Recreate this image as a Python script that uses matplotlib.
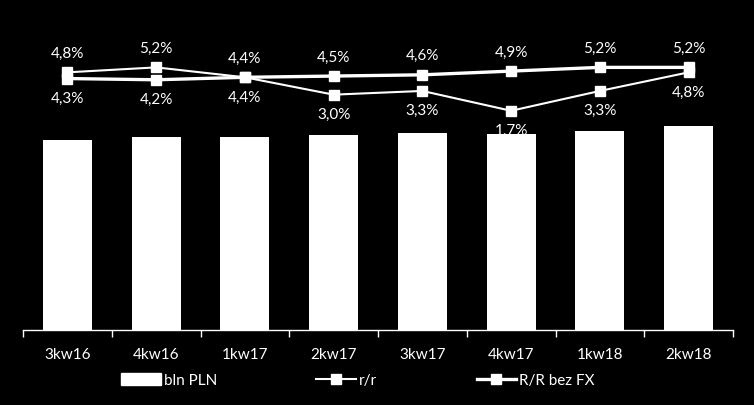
import numpy as np
import matplotlib.pyplot as plt
from matplotlib.lines import Line2D
from matplotlib.patches import Patch

plt.rcParams['font.family'] = ['Lato', 'DejaVu Sans']

# Dane
kwartaly = ['3kw16', '4kw16', '1kw17', '2kw17', '3kw17', '4kw17', '1kw18', '2kw18']
bln_pln = [19.0, 19.3, 19.3, 19.5, 19.7, 19.6, 19.9, 20.4]
rr = [4.8, 5.2, 4.4, 3.0, 3.3, 1.7, 3.3, 4.8]
rr_bez_fx = [4.3, 4.2, 4.4, 4.5, 4.6, 4.9, 5.2, 5.2]
# pozycja etykiet: 1 = nad punktem, -1 = pod punktem
poz_rr = [1, 1, -1, -1, -1, -1, -1, -1]
poz_fx = [-1, -1, 1, 1, 1, 1, 1, 1]

W, H = 754, 406
fig = plt.figure(figsize=(W / 100, H / 100), dpi=100, facecolor='black')
top, bottom = 10, 331
ax = fig.add_axes([23 / W, (H - bottom) / H, 710 / W, (bottom - top) / H])
ax.set_facecolor('black')

x = np.arange(len(kwartaly))
ax.bar(x, bln_pln, width=0.55, color='white', zorder=1)
ax.set_xlim(-0.5, len(kwartaly) - 0.5)
ax.set_ylim(0, (bottom - top) / 10)

for s in ['top', 'right', 'left']:
    ax.spines[s].set_visible(False)
ax.spines['bottom'].set_color('white')
ax.spines['bottom'].set_linewidth(1)
ax.set_yticks([])
ax.set_xticks(np.arange(-0.5, len(kwartaly), 1), minor=False)
ax.set_xticklabels([])
ax.set_xticks(x, minor=True)
ax.set_xticklabels(kwartaly, minor=True)
ax.tick_params(axis='x', which='major', color='white', length=5, width=1)
ax.tick_params(axis='x', which='minor', length=0, colors='white', labelsize=11, pad=12)

# Druga oś dla linii
ax2 = ax.twinx()
px = 12.4
top_val = 4.4 + (78.3 - top) / px
ax2.set_ylim(top_val - (bottom - top) / px, top_val)
ax2.axis('off')

ax2.plot(x, rr, color='white', lw=1.5, marker='s', markersize=7, zorder=3)
ax2.plot(x, rr_bez_fx, color='white', lw=2.4, marker='s', markersize=7, zorder=3)

for xi, v, p in zip(x, rr, poz_rr):
    ax2.annotate(f'{v:.1f}%'.replace('.', ','), (xi, v), xytext=(0, 14 * p),
                 textcoords='offset points', ha='center', va='center',
                 color='white', fontsize=11)
for xi, v, p in zip(x, rr_bez_fx, poz_fx):
    ax2.annotate(f'{v:.1f}%'.replace('.', ','), (xi, v), xytext=(0, 14 * p),
                 textcoords='offset points', ha='center', va='center',
                 color='white', fontsize=11)

# Legenda
uchwyty = [Patch(facecolor='white', edgecolor='white'),
           Line2D([], [], color='white', lw=1.5, marker='s', markersize=7),
           Line2D([], [], color='white', lw=2.4, marker='s', markersize=7)]
leg = fig.legend(uchwyty, ['bln PLN', 'r/r', 'R/R bez FX'], loc='center',
                 bbox_to_anchor=(358 / W, (H - 381) / H), ncol=3, frameon=False,
                 handlelength=2.6, handleheight=0.8, handletextpad=0.2,
                 columnspacing=6.5, fontsize=11, labelcolor='white')

fig.savefig('out.png', dpi=100, facecolor='black')
